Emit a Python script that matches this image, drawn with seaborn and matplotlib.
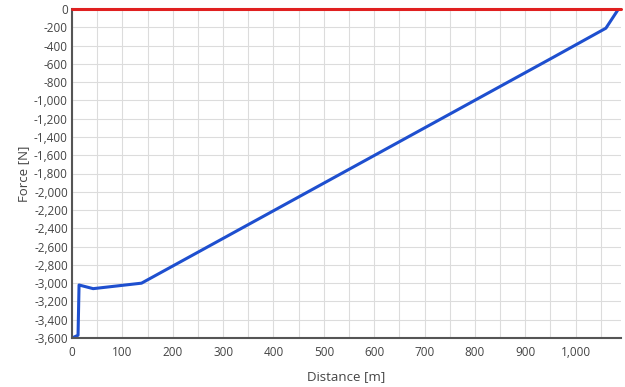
import matplotlib
matplotlib.use("Agg")
import matplotlib.pyplot as plt
import matplotlib.ticker as mticker
import seaborn as sns
import pandas as pd

distance = [0, 12, 14, 42, 138, 955, 1060, 1085]
force = [-3600, -3570, -3020, -3060, -3000, -530, -210, 0]
ref_distance = [0, 1090]
ref_force = [0, 0]

sns.set_theme(style="whitegrid")
plt.rcParams['font.family'] = ['Open Sans', 'DejaVu Sans']

fig = plt.figure(figsize=(6.25, 3.87), dpi=100)
ax = fig.add_axes([72/625, 1-338/387, (621-72)/625, (338-9)/387])

df = pd.DataFrame({"Distance": distance, "Force": force})
rf = pd.DataFrame({"Distance": ref_distance, "Force": ref_force})
sns.lineplot(data=df, x="Distance", y="Force", color="#1e4fcf", lw=2.2, ax=ax, sort=False)
sns.lineplot(data=rf, x="Distance", y="Force", color="#e02020", lw=2.2, ax=ax, clip_on=False, zorder=5)

ax.set_xlim(0, 1090)
ax.set_ylim(-3600, 0)
ax.xaxis.set_major_locator(mticker.MultipleLocator(100))
ax.xaxis.set_minor_locator(mticker.MultipleLocator(50))
ax.yaxis.set_major_locator(mticker.MultipleLocator(200))
ax.xaxis.set_major_formatter(mticker.FuncFormatter(lambda v, p: f"{int(v):,}" if v < 1050 else ""))
ax.yaxis.set_major_formatter(mticker.FuncFormatter(lambda v, p: f"{int(v):,}"))
ax.grid(True, which="major", color="#dcdcdc", lw=0.8)
ax.grid(True, which="minor", axis="x", color="#dcdcdc", lw=0.8)
for s in ["top", "right"]:
    ax.spines[s].set_visible(False)
for s in ["left", "bottom"]:
    ax.spines[s].set_color("#555555")
    ax.spines[s].set_linewidth(1.5)
ax.tick_params(axis="both", labelsize=8.5, colors="#444444", length=0, pad=3)
ax.tick_params(axis="x", pad=6)
ax.tick_params(axis="x", which="minor", length=0)
ax.set_xlabel("Distance [m]", fontsize=9.5, color="#444444", labelpad=8)
ax.set_ylabel("Force [N]", fontsize=9.5, color="#444444", labelpad=3)

fig.savefig("out.png", dpi=100, facecolor="white")
